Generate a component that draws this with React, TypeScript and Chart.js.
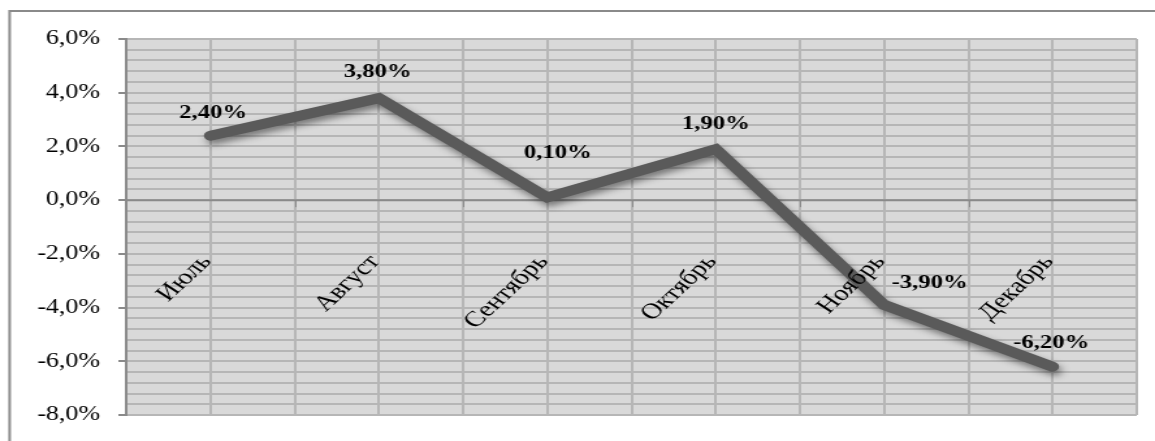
import { useEffect, useRef } from 'react';
import { Chart, registerables } from 'chart.js';

Chart.register(...registerables);

// Month-over-month change, in percent
const months = ['Июль', 'Август', 'Сентябрь', 'Октябрь', 'Ноябрь', 'Декабрь'];
const changePct = [2.4, 3.8, 0.1, 1.9, -3.9, -6.2];

// Value axis range and steps (percent)
const yMin = -8;
const yMax = 6;
const yMajorStep = 2;
const yMinorStep = 0.4;

// Nudges for the value labels around their points, [dx, dy] in canvas px
const valueLabelOffsets: [number, number][] = [
  [2, -23],
  [-1, -26],
  [8, -44],
  [0, -25],
  [35, -22],
  [-1, -24],
];

// The chart is drawn on a narrower canvas and shown stretched to the page width
const VIEW_W = 1155;
const VIEW_H = 441;
const STRETCH = 1.3;
const CANVAS_W = Math.round(VIEW_W / STRETCH);

const SERIF = '"Liberation Serif", "Times New Roman", serif';
const PLOT_BG = '#d9d9d9';
const GRID = '#b6b6b6';
const AXIS = '#8a8a8a';
const LINE = '#5a5a5a';

const CAT_LABEL_ANGLE = (50 * Math.PI) / 180;
const CAT_LABEL_DX = -3;
const CAT_LABEL_DY = 58;

const isMajor = (v: number) => Math.abs(v / yMajorStep - Math.round(v / yMajorStep)) < 1e-6;
const fmtTick = (v: number) => v.toFixed(1).replace('.', ',') + '%';
const fmtValue = (v: number) => v.toFixed(2).replace('.', ',') + '%';

// White page, outer frame and grey plot background
const framePlugin = {
  id: 'frame',
  beforeDraw(chart: any) {
    const { ctx, chartArea } = chart;
    ctx.save();
    ctx.fillStyle = '#ffffff';
    ctx.fillRect(0, 0, chart.width, chart.height);
    ctx.strokeStyle = AXIS;
    ctx.lineWidth = 2;
    ctx.strokeRect(7.4, 11, chart.width + 20, chart.height + 20);
    ctx.fillStyle = PLOT_BG;
    ctx.fillRect(chartArea.left, chartArea.top, chartArea.right - chartArea.left, chartArea.bottom - chartArea.top);
    ctx.restore();
  },
};

// Zero line with small tick marks between the months
const zeroAxisPlugin = {
  id: 'zeroAxis',
  beforeDatasetsDraw(chart: any) {
    const { ctx, chartArea } = chart;
    const xs = chart.scales.x;
    const y0 = chart.scales.y.getPixelForValue(0);
    ctx.save();
    ctx.strokeStyle = AXIS;
    ctx.lineWidth = 2;
    ctx.beginPath();
    ctx.moveTo(chartArea.left, y0);
    ctx.lineTo(chartArea.right, y0);
    ctx.stroke();
    ctx.lineWidth = 1;
    ctx.beginPath();
    for (let i = 1; i < months.length; i++) {
      const x = Math.round(xs.getPixelForValue(i - 0.5)) + 0.5;
      ctx.moveTo(x, y0);
      ctx.lineTo(x, y0 + 7);
    }
    ctx.stroke();
    ctx.restore();
  },
};

// Soft drop shadow under the line
const lineShadowPlugin = {
  id: 'lineShadow',
  beforeDatasetDraw(chart: any) {
    const c = chart.ctx;
    c.save();
    c.shadowColor = 'rgba(0,0,0,0.45)';
    c.shadowBlur = 6;
    c.shadowOffsetX = 2;
    c.shadowOffsetY = 4;
  },
  afterDatasetDraw(chart: any) {
    chart.ctx.restore();
  },
};

// Month names along the zero line and value labels at the points
const labelsPlugin = {
  id: 'labels',
  afterDatasetsDraw(chart: any) {
    const { ctx } = chart;
    const xs = chart.scales.x;
    const y0 = chart.scales.y.getPixelForValue(0);
    ctx.save();
    ctx.fillStyle = '#000000';
    ctx.font = `22px ${SERIF}`;
    ctx.textAlign = 'right';
    ctx.textBaseline = 'middle';
    months.forEach((m, i) => {
      const x = xs.getPixelForValue(i);
      ctx.save();
      ctx.translate(x + CAT_LABEL_DX, y0 + CAT_LABEL_DY);
      ctx.rotate(-CAT_LABEL_ANGLE);
      ctx.fillText(m, 0, 0);
      ctx.restore();
    });

    const meta = chart.getDatasetMeta(0);
    ctx.font = `bold 19px ${SERIF}`;
    ctx.textAlign = 'center';
    ctx.textBaseline = 'middle';
    meta.data.forEach((pt: any, i: number) => {
      const [dx, dy] = valueLabelOffsets[i];
      ctx.fillText(fmtValue(changePct[i]), pt.x + dx, pt.y + dy);
    });
    ctx.restore();
  },
};

export default function App() {
  const canvasRef = useRef<HTMLCanvasElement | null>(null);

  useEffect(() => {
    const canvas = canvasRef.current;
    if (!canvas) return;
    const chart = new Chart(canvas, {
      type: 'line',
      data: {
        labels: months,
        datasets: [
          {
            data: changePct,
            borderColor: LINE,
            borderWidth: 10,
            borderCapStyle: 'round',
            borderJoinStyle: 'miter',
            pointRadius: 0,
            pointHoverRadius: 0,
            tension: 0,
            fill: false,
            xAxisID: 'x',
            yAxisID: 'y',
          },
        ],
      },
      options: {
        responsive: false,
        maintainAspectRatio: false,
        animation: false,
        devicePixelRatio: 1,
        events: [],
        layout: { padding: { top: 39, right: 14, bottom: 23, left: 0 } },
        plugins: {
          legend: { display: false },
          tooltip: { enabled: false },
        },
        scales: {
          x: {
            type: 'category',
            offset: true,
            display: false,
          },
          xGrid: {
            type: 'linear',
            position: 'bottom',
            min: -0.5,
            max: months.length - 0.5,
            afterFit: (s: any) => {
              s.height = 0;
            },
            ticks: { display: false, stepSize: 0.5 },
            grid: {
              color: (c: any) => (c.tick && c.tick.value <= -0.5 ? 'rgba(0,0,0,0)' : GRID),
              lineWidth: 2,
              drawTicks: false,
            },
            border: { display: false },
          },
          y: {
            type: 'linear',
            min: yMin,
            max: yMax,
            afterFit: (s: any) => {
              s.width = 97;
            },
            ticks: {
              stepSize: yMinorStep,
              autoSkip: false,
              padding: 14,
              color: '#000000',
              font: { family: SERIF, size: 20 },
              callback: (v: any) => (isMajor(Number(v)) ? fmtTick(Number(v)) : ''),
            },
            grid: {
              color: GRID,
              lineWidth: 2,
              tickLength: 6,
              tickWidth: 2,
              tickColor: (c: any) => (c.tick && isMajor(c.tick.value) ? AXIS : 'rgba(0,0,0,0)'),
            },
            border: { display: true, color: AXIS, width: 2 },
          },
        },
      },
      plugins: [framePlugin, zeroAxisPlugin, lineShadowPlugin, labelsPlugin],
    } as any);
    return () => chart.destroy();
  }, []);

  return (
    <div style={{ position: 'fixed', left: 0, top: 0, width: VIEW_W, height: VIEW_H, background: '#ffffff' }}>
      <canvas
        ref={canvasRef}
        width={CANVAS_W}
        height={VIEW_H}
        style={{ width: `${VIEW_W}px`, height: `${VIEW_H}px`, display: 'block' }}
      />
    </div>
  );
}
